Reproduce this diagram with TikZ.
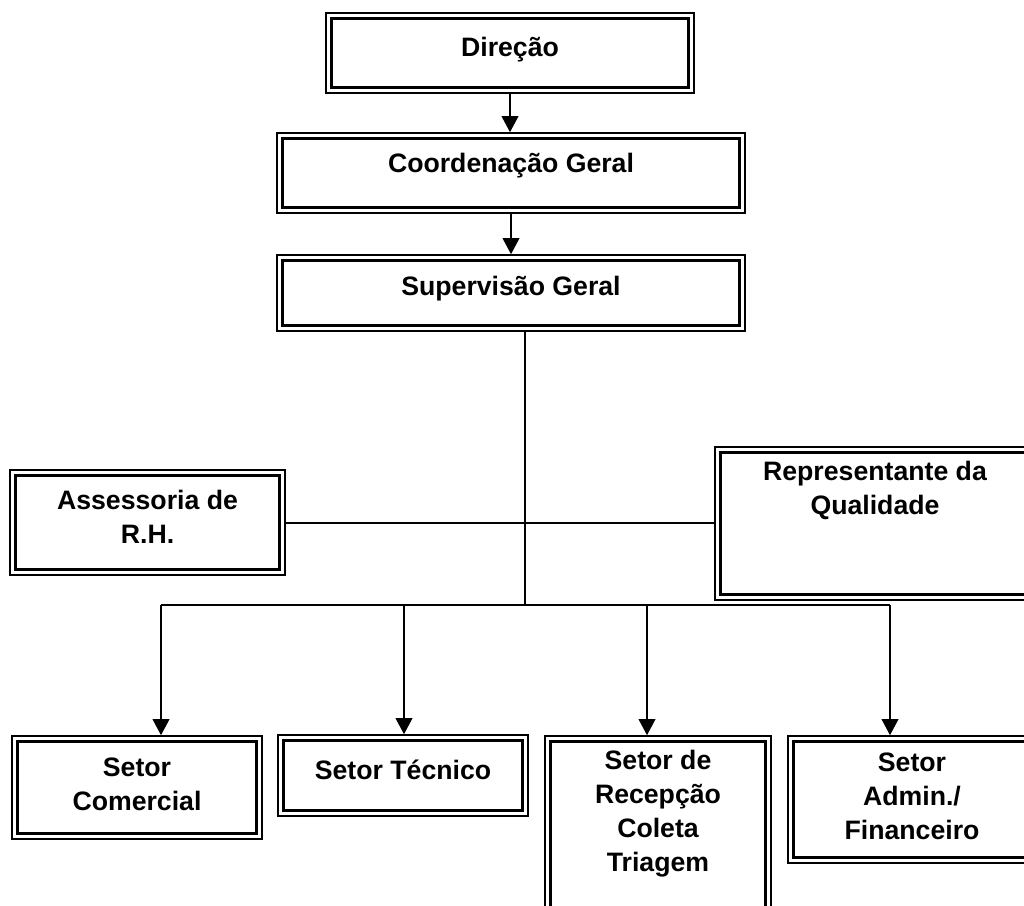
\documentclass[tikz,border=0pt]{standalone}
\usepackage{fontspec}
\setmainfont{Liberation Sans}
\usetikzlibrary{arrows.meta,fit}
\tikzset{
  outerbox/.style={draw=black, line width=1.2pt, inner sep=0pt, fill=none},
  innerline/.style={draw=black, line width=2pt},
  lbl/.style={font=\fontsize{20}{25.5}\selectfont\bfseries, align=center, inner sep=0pt},
  conn/.style={draw=black, line width=1.1pt},
  arr/.style={conn, -{Triangle[width=12.5pt,length=12pt]}}
}
\begin{document}
\begin{tikzpicture}[x=0.75pt,y=-0.75pt]
\useasboundingbox (0,0) rectangle (1024,906);
\clip (0,0) rectangle (1024,906);
% boxes
\node[outerbox, fit={(326,13) (694,93)}] (dir) {};
\node[outerbox, fit={(277,133) (745,213)}] (coor) {};
\node[outerbox, fit={(277,255) (745,331)}] (sup) {};
\node[outerbox, fit={(10,470) (285,575)}] (ass) {};
\node[outerbox, fit={(715,447) (1036,600)}] (rep) {};
\node[outerbox, fit={(12,736) (262,839)}] (com) {};
\node[outerbox, fit={(278,735) (528,816)}] (tec) {};
\node[outerbox, fit={(545,736) (771,930)}] (rec) {};
\node[outerbox, fit={(788,736) (1036,863)}] (adm) {};
\foreach \n in {dir,coor,sup,ass,rep,com,tec,rec,adm}{
  \draw[innerline] ([shift={(6,6)}]\n.north west) rectangle ([shift={(-6,-6)}]\n.south east);
}
% labels
\node[lbl] (dirT) at (510,50) {Direção};
\node[lbl] (coorT) at (511,166) {Coordenação Geral};
\node[lbl] (supT) at (511,289) {Supervisão Geral};
\node[lbl] (assT) at (147.5,517) {Assessoria de\\R.H.};
\node[lbl] (repT) at (875,490) {Representante da\\Qualidade};
\node[lbl] (comT) at (137,784) {Setor\\Comercial};
\node[lbl] (tecT) at (403,770) {Setor Técnico};
\node[lbl] (recT) at (658,814) {Setor de\\Recepção\\Coleta\\Triagem};
\node[lbl] (admT) at (912,796) {Setor\\Admin./\\Financeiro};
% connectors
\draw[arr] (dir.south) -- (dir.south |- coor.north);
\draw[arr] (coor.south) -- (sup.north);
\coordinate (j1) at (525,523);
\coordinate (j2) at (525,605);
\draw[conn] (sup.south -| j1) -- (j2);
\draw[conn] (ass.east |- j1) -- (rep.west |- j1);
\coordinate (b1) at (161,605);
\coordinate (b2) at (404,605);
\coordinate (b3) at (647,605);
\coordinate (b4) at (890,605);
\draw[conn] (b1) -- (b4);
\draw[arr] (b1) -- (b1 |- com.north);
\draw[arr] (b2) -- (b2 |- tec.north);
\draw[arr] (b3) -- (b3 |- rec.north);
\draw[arr] (b4) -- (b4 |- adm.north);
\end{tikzpicture}
\end{document}
